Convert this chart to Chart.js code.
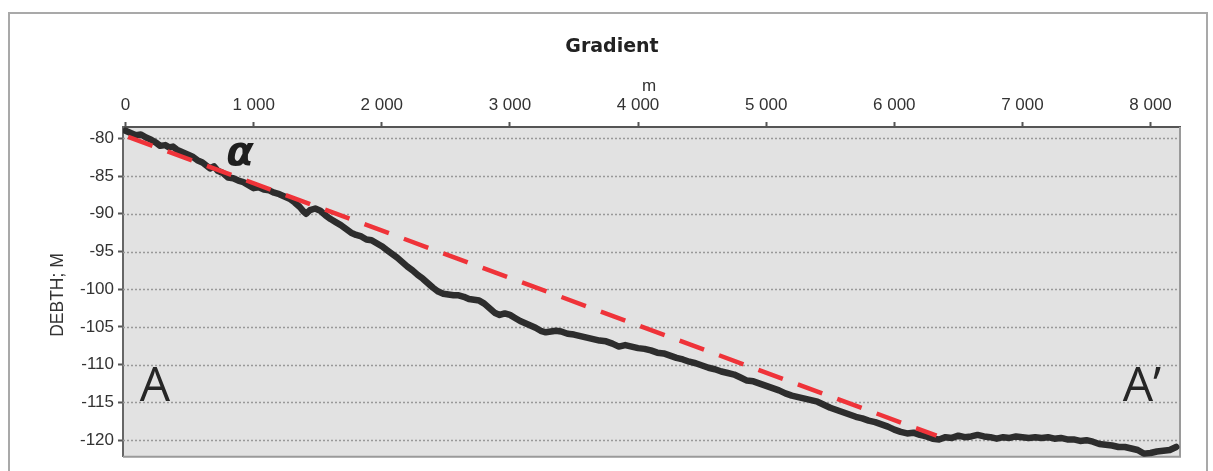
<!DOCTYPE html>
<html>
<head>
<meta charset="utf-8">
<title>Gradient</title>
<script src="https://cdn.jsdelivr.net/npm/chart.js@4.4.0/dist/chart.umd.min.js"></script>
<style>
  html, body { margin: 0; padding: 0; background: #fff; }
  #wrap { position: relative; width: 1213px; height: 471px; }
</style>
</head>
<body>
<div id="wrap"><canvas id="chart-gradient" width="1213" height="471"></canvas></div>
<script>
// ---- data ----
const xTicks = [0, 1000, 2000, 3000, 4000, 5000, 6000, 7000, 8000];
const yTicks = [-80, -85, -90, -95, -100, -105, -110, -115, -120];

// profile A – A' : distance (m) and depth (m)
const jarak = [
  0, 40, 80, 120, 160, 200, 240, 270, 310, 340, 370, 400, 440, 480, 520, 560, 600, 630, 660, 690,
  720, 760, 800, 840, 880, 920, 960, 1000, 1040, 1080, 1120, 1160, 1200, 1240, 1280, 1320, 1360, 1390, 1410, 1440,
  1480, 1520, 1560, 1600, 1640, 1680, 1720, 1760, 1800, 1840, 1880, 1920, 1960, 2000, 2040, 2080, 2120, 2160, 2200, 2240,
  2280, 2320, 2360, 2400, 2440, 2480, 2520, 2560, 2600, 2640, 2680, 2720, 2760, 2800, 2840, 2880, 2920, 2960, 3000, 3040,
  3080, 3120, 3160, 3200, 3240, 3280, 3320, 3360, 3400, 3450, 3500, 3550, 3600, 3650, 3700, 3750, 3800, 3850, 3900, 3950,
  4000, 4050, 4100, 4150, 4200, 4250, 4300, 4350, 4400, 4450, 4500, 4550, 4600, 4650, 4700, 4750, 4800, 4850, 4900, 4950,
  5000, 5050, 5100, 5150, 5200, 5250, 5300, 5350, 5400, 5450, 5500, 5550, 5600, 5650, 5700, 5750, 5800, 5850, 5900, 5950,
  6000, 6050, 6100, 6150, 6200, 6250, 6300, 6350, 6400, 6450, 6500, 6550, 6600, 6650, 6700, 6750, 6800, 6850, 6900, 6950,
  7000, 7050, 7100, 7150, 7200, 7250, 7300, 7350, 7400, 7450, 7500, 7550, 7600, 7650, 7700, 7750, 7800, 7850, 7900, 7950,
  8000, 8050, 8100, 8150, 8200
];
const kedalaman = [
  -79.0, -79.3, -79.6, -79.5, -79.9, -80.2, -80.6, -81.0, -80.9, -81.2, -81.1, -81.5, -81.8, -82.1, -82.4, -82.9, -83.2, -83.6, -84.0, -83.7,
  -84.3, -84.6, -85.2, -85.3, -85.6, -85.8, -86.2, -86.6, -86.5, -86.8, -86.9, -87.2, -87.4, -87.7, -88.0, -88.5, -89.1, -89.7, -90.0, -89.5,
  -89.3, -89.6, -90.2, -90.7, -91.1, -91.5, -92.0, -92.5, -92.8, -93.0, -93.4, -93.5, -93.9, -94.3, -94.8, -95.3, -95.8, -96.4, -97.0, -97.5,
  -98.1, -98.6, -99.2, -99.8, -100.3, -100.6, -100.7, -100.8, -100.8, -101.0, -101.3, -101.4, -101.5, -101.9, -102.5, -103.1, -103.4, -103.2, -103.4, -103.8,
  -104.2, -104.5, -104.8, -105.1, -105.5, -105.7, -105.6, -105.5, -105.6, -105.9, -106.0, -106.2, -106.4, -106.6, -106.8, -106.9, -107.2, -107.6, -107.4, -107.6,
  -107.8, -107.9, -108.1, -108.4, -108.5, -108.8, -109.1, -109.3, -109.6, -109.8, -110.1, -110.4, -110.6, -110.9, -111.1, -111.3, -111.7, -112.1, -112.2, -112.5,
  -112.8, -113.1, -113.4, -113.8, -114.1, -114.3, -114.5, -114.7, -114.9, -115.3, -115.7, -116.0, -116.3, -116.6, -116.9, -117.1, -117.4, -117.6, -117.9, -118.2,
  -118.6, -118.9, -119.1, -119.0, -119.3, -119.5, -119.8, -119.9, -119.6, -119.7, -119.4, -119.6, -119.5, -119.3, -119.5, -119.6, -119.8, -119.6, -119.7, -119.5,
  -119.6, -119.7, -119.6, -119.7, -119.6, -119.8, -119.7, -119.9, -119.9, -120.1, -120.0, -120.2, -120.5, -120.6, -120.7, -120.9, -120.9, -121.1, -121.3, -121.8,
  -121.7, -121.5, -121.4, -121.3, -120.9
];

// gradient line (red dashed): start and end
const gradienX = [20, 6330];
const gradienY = [-79.8, -119.4];

// ---- helpers ----
function formatRibuan(v) {
  return String(v).replace(/\B(?=(\d{3})+(?!\d))/g, ' ');
}

const TICK_FONT = { family: "'Liberation Sans', Arial, sans-serif", size: 17 };

// background, dotted grid, frame and free texts
const hiasan = {
  id: 'hiasan',
  beforeDraw(chart) {
    const { ctx, chartArea: a } = chart;
    ctx.save();
    ctx.fillStyle = '#fff';
    ctx.fillRect(0, 0, chart.width, chart.height);
    // outer frame
    ctx.strokeStyle = '#a9a9a9';
    ctx.lineWidth = 2;
    ctx.beginPath();
    ctx.moveTo(9, chart.height);
    ctx.lineTo(9, 13);
    ctx.lineTo(1207, 13);
    ctx.lineTo(1207, chart.height);
    ctx.stroke();
    // plot background
    ctx.fillStyle = '#e2e2e2';
    ctx.fillRect(a.left, a.top, a.right - a.left, a.bottom - a.top);
    ctx.restore();
  },
  beforeDatasetsDraw(chart) {
    const { ctx, chartArea: a, scales } = chart;
    ctx.save();
    ctx.strokeStyle = '#999';
    ctx.lineWidth = 1.5;
    ctx.setLineDash([2, 2]);
    yTicks.forEach(v => {
      const y = Math.round(scales.y.getPixelForValue(v)) + 0.5;
      ctx.beginPath();
      ctx.moveTo(a.left, y);
      ctx.lineTo(a.right, y);
      ctx.stroke();
    });
    ctx.setLineDash([]);
    // right and bottom border of the plot
    ctx.strokeStyle = '#9a9a9a';
    ctx.lineWidth = 2;
    ctx.beginPath();
    ctx.moveTo(a.right, a.top);
    ctx.lineTo(a.right, a.bottom);
    ctx.lineTo(a.left, a.bottom);
    ctx.stroke();
    ctx.restore();
  },
  afterDraw(chart) {
    const { ctx } = chart;
    ctx.save();
    ctx.fillStyle = '#222';
    ctx.textAlign = 'center';
    ctx.textBaseline = 'middle';
    ctx.font = "bold 19px 'DejaVu Sans', sans-serif";
    ctx.fillText('Gradient', 612, 47);
    ctx.fillStyle = '#333';
    ctx.font = "17px 'Liberation Sans', Arial, sans-serif";
    ctx.fillText('m', 649, 86);
    // y axis title
    ctx.save();
    ctx.translate(58, 295);
    ctx.rotate(-Math.PI / 2);
    ctx.font = "17.5px 'Liberation Sans', Arial, sans-serif";
    ctx.fillText('DEBTH; M', 0, 0);
    ctx.restore();
    // section labels
    ctx.fillStyle = '#262626';
    ctx.textBaseline = 'alphabetic';
    ctx.font = "48px 'Open Sans', sans-serif";
    ctx.fillText('A', 155, 401);
    ctx.fillText('A’', 1142, 401);
    // handwritten alpha
    ctx.font = "bold italic 40px 'DejaVu Sans', sans-serif";
    ctx.fillStyle = '#1e1e1e';
    ctx.fillText('α', 240, 165);
    ctx.restore();
  }
};

new Chart(document.getElementById('chart-gradient'), {
  type: 'line',
  data: {
    datasets: [
      {
        label: 'Profil',
        data: jarak.map((x, i) => ({ x, y: kedalaman[i] })),
        borderColor: '#2d2d2d',
        borderWidth: 6.5,
        pointRadius: 0,
        tension: 0,
        borderJoinStyle: 'round',
        borderCapStyle: 'round',
        order: 2
      },
      {
        label: 'Gradien',
        data: gradienX.map((x, i) => ({ x, y: gradienY[i] })),
        borderColor: '#ef3339',
        borderWidth: 4.5,
        borderDash: [26, 16],
        pointRadius: 0,
        tension: 0,
        order: 1
      }
    ]
  },
  options: {
    responsive: false,
    animation: false,
    events: [],
    layout: { padding: { left: 0, top: 0, right: 33, bottom: 10 } },
    plugins: {
      legend: { display: false },
      title: { display: false },
      tooltip: { enabled: false }
    },
    scales: {
      x: {
        type: 'linear',
        position: 'top',
        min: -20,
        max: 8230,
        afterBuildTicks: s => { s.ticks = xTicks.map(v => ({ value: v })); },
        afterFit: s => { s.height = 127; },
        ticks: {
          font: TICK_FONT,
          color: '#333',
          padding: 6,
          maxRotation: 0,
          callback: v => formatRibuan(v)
        },
        grid: { drawOnChartArea: false, drawTicks: true, tickLength: 5, tickColor: '#555', tickWidth: 2 },
        border: { color: '#555', width: 2 }
      },
      y: {
        type: 'linear',
        min: -122.2,
        max: -78.5,
        afterBuildTicks: s => { s.ticks = yTicks.map(v => ({ value: v })); },
        afterFit: s => { s.width = 123; },
        ticks: { font: TICK_FONT, color: '#333', padding: 4 },
        grid: { drawOnChartArea: false, drawTicks: true, tickLength: 5, tickColor: '#555', tickWidth: 2 },
        border: { color: '#666', width: 2 }
      }
    }
  },
  plugins: [hiasan]
});
</script>
</body>
</html>
